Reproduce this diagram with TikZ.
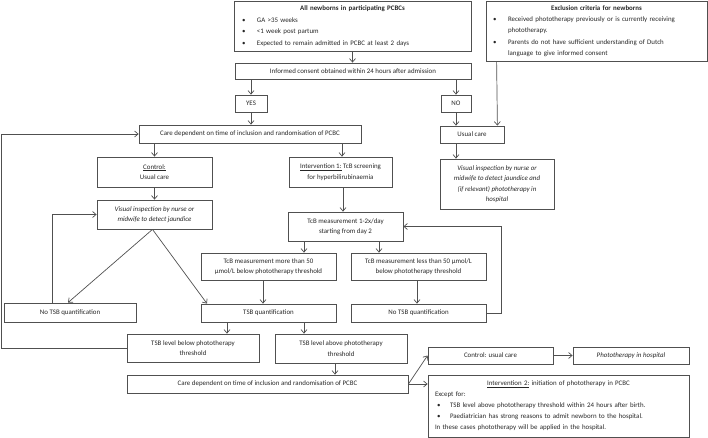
\documentclass[tikz,border=0pt]{standalone}
\usepackage{fontspec}
\setmainfont{Carlito}
\usetikzlibrary{arrows.meta}
\definecolor{lc}{HTML}{505050}
\newcommand{\fs}{\fontsize{6.9}{10.5}\selectfont}
\begin{document}
\begin{tikzpicture}[x=1pt,y=-1pt,
  box/.style={draw=lc, line width=0.8pt, inner sep=0pt, align=center, text=black!85,
    font=\fs},
  itbox/.style={box, font=\fs\itshape},
  arr/.style={draw=lc, line width=0.7pt, -{Straight Barb[length=3.5pt,width=6pt]}},
  ln/.style={draw=lc, line width=0.7pt}]
\useasboundingbox (0,0) rectangle (708,438);
% top boxes
\node[box, minimum width=237pt, minimum height=50pt, text width=229pt, align=left,
  font=\fontsize{6.9}{11.5}\selectfont] (all) at (352.5,26)
  {\makebox[\linewidth][c]{\textbf{All newborns in participating PCBCs}}\\
   \hspace*{4pt}\makebox[15pt][l]{\textbullet}GA >35 weeks\\
   \hspace*{4pt}\makebox[15pt][l]{\textbullet}<1 week post partum\\
   \hspace*{4pt}\makebox[15pt][l]{\textbullet}Expected to remain admitted in PCBC at least 2 days};
\node[box, minimum width=221pt, minimum height=60pt, text width=213pt, align=left,
  font=\fontsize{6.9}{11.2}\selectfont] (excl) at (596.5,31)
  {\makebox[\linewidth][c]{\textbf{Exclusion criteria for newborns}}\\
   \hspace*{3pt}\makebox[15pt][l]{\textbullet}Received phototherapy previously or is currently receiving\\
   \hspace*{18pt}phototherapy.\\
   \hspace*{3pt}\makebox[15pt][l]{\textbullet}Parents do not have sufficient understanding of Dutch\\
   \hspace*{18pt}language to give informed consent};
\node[box, minimum width=236pt, minimum height=16pt] (inf) at (353,71)
  {Informed consent obtained within 24 hours after admission};
\node[box, minimum width=32pt, minimum height=17pt] (yes) at (251,103.5) {YES};
\node[box, minimum width=30pt, minimum height=17pt] (no) at (456,103.5) {NO};
\node[box, minimum width=222pt, minimum height=18pt] (caretop) at (250,134)
  {Care dependent on time of inclusion and randomisation of PCBC};
\node[box, minimum width=64pt, minimum height=17pt] (usual) at (472,134.5) {Usual care};
\node[itbox, minimum width=114pt, minimum height=50pt] (visR) at (497,184)
  {Visual inspection by nurse or\\midwife to detect jaundice and\\(if relevant) phototherapy in\\hospital};
% left branch
\node[box, minimum width=115pt, minimum height=30pt] (ctrl) at (154.5,172)
  {\underline{Control:}\\Usual care};
\node[itbox, minimum width=115pt, minimum height=29pt] (visL) at (154.5,214.5)
  {Visual inspection by nurse or\\midwife to detect jaundice};
\node[box, minimum width=132pt, minimum height=19pt] (noL) at (70,312.5) {No TSB quantification};
% intervention branch
\node[box, minimum width=103pt, minimum height=30pt] (int1) at (340.5,172)
  {\underline{Intervention 1:} TcB screening\\for hyperbilirubinaemia};
\node[box, minimum width=115pt, minimum height=29pt] (tcb) at (345.5,226.5)
  {TcB measurement 1-2x/day\\starting from day 2};
\node[box, minimum width=135pt, minimum height=27pt] (more) at (268.5,266.5)
  {TcB measurement more than 50\\µmol/L below phototherapy threshold};
\node[box, minimum width=135pt, minimum height=27pt] (less) at (418.5,266.5)
  {TcB measurement less than 50 µmol/L\\below phototherapy threshold};
\node[box, minimum width=135pt, minimum height=18pt] (tsbq) at (268.5,313) {TSB quantification};
\node[box, minimum width=135pt, minimum height=18pt] (noR) at (418.5,313) {No TSB quantification};
\node[box, minimum width=132pt, minimum height=28pt] (below) at (193,348)
  {TSB level below phototherapy\\threshold};
\node[box, minimum width=132pt, minimum height=29pt] (above) at (341,348.5)
  {TSB level above phototherapy\\threshold};
\node[box, minimum width=281pt, minimum height=18pt] (carebot) at (267.5,384)
  {Care dependent on time of inclusion and randomisation of PCBC};
\node[box, minimum width=125pt, minimum height=17pt] (cuc) at (490.5,355.5) {Control: usual care};
\node[itbox, minimum width=116pt, minimum height=17pt] (photo) at (631,355.5)
  {Phototherapy in hospital};
\node[box, minimum width=261pt, minimum height=62pt, text width=253pt, align=left,
  font=\fontsize{6.9}{11}\selectfont] (int2) at (558.5,406)
  {\makebox[\linewidth][c]{\underline{Intervention 2:} initiation of phototherapy in PCBC}\\
   \hspace*{3pt}Except for:\\
   \hspace*{5pt}\makebox[13pt][l]{\textbullet}TSB level above phototherapy threshold within 24 hours after birth.\\
   \hspace*{5pt}\makebox[13pt][l]{\textbullet}Paediatrician has strong reasons to admit newborn to the hospital.\\
   \hspace*{3pt}In these cases phototherapy will be applied in the hospital.};
% connectors
\draw[arr] (all.south) -- (all.south |- inf.north);
\draw[arr] (inf.south -| yes) -- (yes.north);
\draw[arr] (inf.south -| no) -- (no.north);
\draw[arr] (yes.south) -- (yes.south |- caretop.north);
\draw[arr] (no.south) -- (no.south |- usual.north);
\draw[arr] ([xshift=11pt]excl.south west) -- ([xshift=-7pt]usual.north east);
\draw[arr] (usual.south -| no) -- (no |- visR.north);
\draw[arr] (caretop.south -| ctrl) -- (ctrl.north);
\draw[arr] ([xshift=1.5pt]caretop.south -| int1) -- ([xshift=1.5pt]int1.north);
\draw[arr] (ctrl.south) -- (visL.north);
\draw[arr] ([xshift=2.5pt]int1.south) -- ([xshift=2.5pt]int1.south |- tcb.north);
\draw[arr] (tcb.south -| 304,0) -- (304,0 |- more.north);
\draw[arr] (tcb.south -| 379,0) -- (379,0 |- less.north);
\draw[arr] (more.south -| 263,0) -- (263,0 |- tsbq.north);
\draw[arr] (less.south -| 417,0) -- (417,0 |- noR.north);
\draw[arr] (noR.east) -- ++(15,0) |- (tcb.east);
\coordinate (vb) at ([xshift=-2pt]visL.south);
\draw[arr] (vb) -- (noL.north -| 68,0);
\draw[arr] (vb) -- (tsbq.north -| 207,0);
\draw[arr] (noL.north -| 52,0) |- (visL.west);
\draw[arr] (tsbq.south -| 227,0) -- (227,0 |- below.north);
\draw[arr] (tsbq.south -| 304,0) -- (304,0 |- above.north);
\draw[arr] (below.west) -- (1.5,348) |- (caretop.west);
\draw[arr] (above.south -| 335,0) -- (335,0 |- carebot.north);
\draw[arr] (carebot.east) -- (cuc.west);
\draw[arr] (carebot.east) -- (carebot.east -| int2.west);
\draw[arr] (cuc.east) -- (photo.west);
\end{tikzpicture}
\end{document}
